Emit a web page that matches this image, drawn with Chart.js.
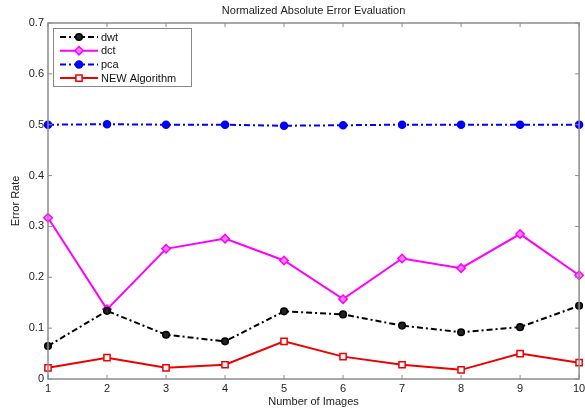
<!DOCTYPE html>
<html><head><meta charset="utf-8">
<script src="https://cdn.jsdelivr.net/npm/chart.js@4.4.0/dist/chart.umd.min.js"></script>
<style>html,body{margin:0;padding:0;background:#fff;overflow:hidden;}</style>
</head><body>
<canvas id="c" width="585" height="410" style="width:585px;height:410px;display:block"></canvas>
<script>
const categories = ['1','2','3','4','5','6','7','8','9','10'];
const dwtValues = [0.065, 0.134, 0.087, 0.074, 0.133, 0.127, 0.105, 0.092, 0.102, 0.144];
const dctValues = [0.317, 0.137, 0.256, 0.276, 0.233, 0.157, 0.237, 0.218, 0.285, 0.204];
const pcaValues = [0.500, 0.501, 0.500, 0.500, 0.498, 0.499, 0.500, 0.500, 0.500, 0.500];
const newValues = [0.022, 0.042, 0.022, 0.028, 0.074, 0.044, 0.028, 0.018, 0.050, 0.032];
const yTicks = [0, 0.1, 0.2, 0.3, 0.4, 0.5, 0.6, 0.7];
const seriesNames = ['dwt', 'dct', 'pca', 'NEW Algorithm'];
const chartTitle = 'Normalized Absolute Error Evaluation';
const xTitle = 'Number of Images';
const yTitle = 'Error Rate';

const FONT = 'Liberation Sans, Arial, Helvetica, sans-serif';

function drawMarker(ctx, style, x, y, r, fill, stroke){
  ctx.beginPath();
  if(style==='circle') ctx.arc(x,y,r,0,2*Math.PI);
  else if(style==='rect'){ const s=r*Math.SQRT1_2; ctx.rect(x-s,y-s,2*s,2*s); }
  else { ctx.moveTo(x,y-r); ctx.lineTo(x+r,y); ctx.lineTo(x,y+r); ctx.lineTo(x-r,y); ctx.closePath(); }
  ctx.fillStyle=fill; ctx.fill();
  ctx.setLineDash([]); ctx.lineWidth=1.5; ctx.strokeStyle=stroke; ctx.stroke();
}

const framePlugin = {
  id:'frame',
  afterDraw(chart){
    const ctx=chart.ctx, a=chart.chartArea, xs=chart.scales.x, ys=chart.scales.y;
    ctx.save();
    ctx.strokeStyle='#8c8c8c'; ctx.lineWidth=1.5; ctx.setLineDash([]);
    ctx.strokeRect(a.left, a.top, a.right-a.left, a.bottom-a.top);
    ctx.beginPath();
    categories.forEach((c,i)=>{
      const px=xs.getPixelForValue(i);
      ctx.moveTo(px,a.bottom); ctx.lineTo(px,a.bottom-4);
      ctx.moveTo(px,a.top); ctx.lineTo(px,a.top+4);
    });
    yTicks.forEach(v=>{
      const py=ys.getPixelForValue(v);
      ctx.moveTo(a.left,py); ctx.lineTo(a.left+4,py);
      ctx.moveTo(a.right,py); ctx.lineTo(a.right-4,py);
    });
    ctx.lineWidth=1; ctx.stroke();
    // title
    ctx.fillStyle='#222'; ctx.font='11px '+FONT; ctx.textAlign='center'; ctx.textBaseline='middle';
    ctx.fillText(chartTitle, (a.left+a.right)/2, 11);
    // legend
    const x0=a.left+5, y0=a.top+5, w=138, h=58;
    ctx.fillStyle='#fff'; ctx.fillRect(x0,y0,w,h);
    ctx.strokeStyle='#888'; ctx.lineWidth=1; ctx.strokeRect(x0+0.5,y0+0.5,w,h);
    chart.data.datasets.forEach((ds,i)=>{
      const y=y0+9+i*13.7;
      ctx.beginPath();
      ctx.setLineDash(ds.borderDash||[]);
      ctx.strokeStyle=ds.borderColor; ctx.lineWidth=ds.borderWidth;
      ctx.moveTo(x0+7,y); ctx.lineTo(x0+45,y); ctx.stroke();
      drawMarker(ctx, ds.pointStyle, x0+26, y, ds.pointRadius, ds.pointBackgroundColor, ds.pointBorderColor);
      ctx.fillStyle='#111'; ctx.font='11px '+FONT; ctx.textAlign='left'; ctx.textBaseline='middle';
      ctx.fillText(ds.label, x0+48, y+0.5);
    });
    ctx.restore();
  }
};

const dashDot=[6,3,2,3];
function mk(label, data, color, dash, style, r, fill){
  return {label, data, borderColor:color, borderWidth:2, borderDash:dash,
    pointStyle:style, pointRadius:r, pointHoverRadius:r, pointBackgroundColor:fill,
    pointBorderColor:color, pointBorderWidth:1.5, tension:0, fill:false};
}

new Chart(document.getElementById('c'), {
  type:'line',
  data:{
    labels:categories,
    datasets:[
      mk(seriesNames[0], dwtValues, '#000000', dashDot, 'circle', 3.3, '#222222'),
      mk(seriesNames[1], dctValues, '#ff00ff', [], 'rectRot', 4.2, '#ff7fff'),
      mk(seriesNames[2], pcaValues, '#0000ff', dashDot, 'circle', 3.5, '#0000ff'),
      mk(seriesNames[3], newValues, '#ee0000', [], 'rect', 4.4, '#ffffff')
    ]
  },
  options:{
    responsive:false, animation:false,
    layout:{padding:{left:0, right:3, top:23, bottom:0}},
    plugins:{legend:{display:false}, title:{display:false}, tooltip:{enabled:false}},
    scales:{
      x:{
        offset:false,
        grid:{display:false, drawTicks:false},
        border:{display:false},
        ticks:{color:'#222', font:{family:FONT, size:11}, padding:3, maxRotation:0, autoSkip:false},
        title:{display:true, text:xTitle, color:'#222', font:{family:FONT, size:11}, padding:{top:0, bottom:1}},
        afterFit(s){ s.height=31; s.paddingRight=0; }
      },
      y:{
        min:0, max:0.7,
        grid:{display:false, drawTicks:false},
        border:{display:false},
        afterBuildTicks(s){ s.ticks=yTicks.map(v=>({value:v})); },
        ticks:{color:'#222', font:{family:FONT, size:11}, padding:4,
          callback:v=> v===0 ? '0' : Number(v).toFixed(1)},
        title:{display:true, text:yTitle, color:'#222', font:{family:FONT, size:11}, padding:{top:9, bottom:0}},
        afterFit(s){ s.width=48; }
      }
    }
  },
  plugins:[framePlugin]
});
</script>
</body></html>
